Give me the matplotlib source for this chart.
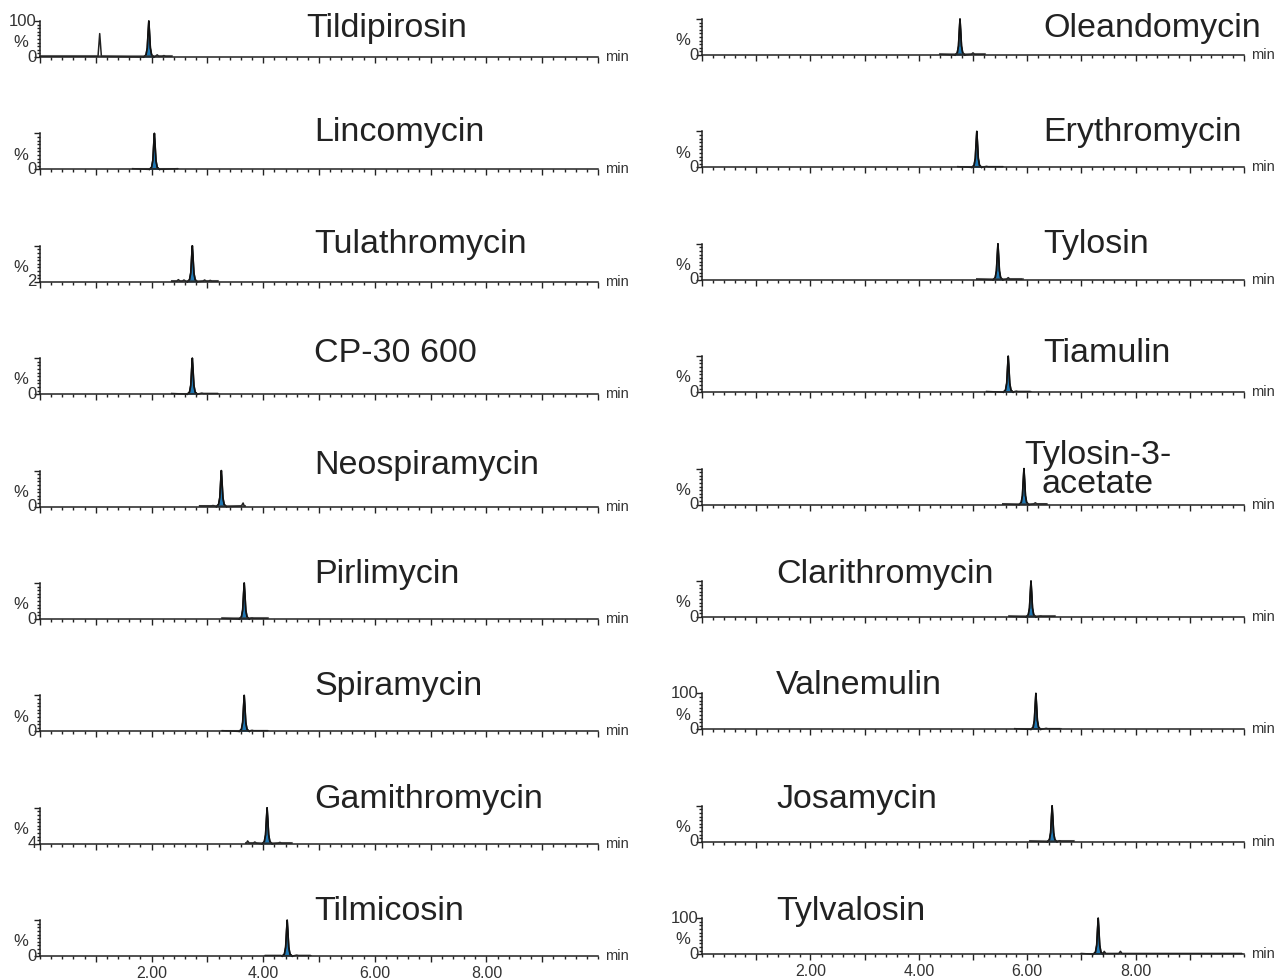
import matplotlib
matplotlib.use('Agg')
import matplotlib.pyplot as plt
from matplotlib.transforms import offset_copy
from matplotlib.ticker import MultipleLocator

plt.rcParams['font.family'] = ['Liberation Sans', 'DejaVu Sans']

# data
left_names = ['Tildipirosin', 'Lincomycin', 'Tulathromycin', 'CP-30 600', 'Neospiramycin',
              'Pirlimycin', 'Spiramycin', 'Gamithromycin', 'Tilmicosin']
left_rt = [1.95, 2.05, 2.73, 2.73, 3.25, 3.66, 3.66, 4.07, 4.43]
left_win = [(0.0, 2.35), (1.66, 2.46), (2.36, 3.18), (2.36, 3.18), (2.86, 3.66),
            (3.27, 4.07), (3.27, 4.07), (3.70, 4.50), (4.04, 4.84)]
left_bumps = [[(1.07, 65), (2.1, 6), (2.22, 4)], [], [(2.48, 6), (2.58, 5), (2.95, 5), (3.05, 4)],
              [(2.9, 3)], [(3.1, 3), (3.64, 10)], [(3.8, 3)], [(3.8, 3)],
              [(3.72, 8), (3.85, 5), (4.3, 4)], [(4.35, 20), (4.6, 3)]]
left_low = ['0', '0', '2', '0', '0', '0', '0', '4', '0']
left_top = ['100', '', '', '', '', '', '', '', '']

right_names = ['Oleandomycin', 'Erythromycin', 'Tylosin', 'Tiamulin', 'Tylosin-3-\nacetate',
               'Clarithromycin', 'Valnemulin', 'Josamycin', 'Tylvalosin']
right_rt = [4.76, 5.07, 5.46, 5.65, 5.94, 6.07, 6.16, 6.46, 7.31]
right_win = [(4.39, 5.21), (4.72, 5.54), (5.07, 5.90), (5.25, 6.05), (5.55, 6.35),
             (5.67, 6.50), (5.77, 6.60), (6.05, 6.85), (7.00, 9.95)]
right_bumps = [[(5.0, 6)], [(5.25, 3)], [(5.65, 6)], [(5.8, 3)], [(6.15, 5)],
               [(6.25, 3)], [(6.35, 3)], [(6.6, 3)], [(7.42, 8), (7.72, 8)]]
right_low = ['0'] * 9
right_top = ['', '', '', '', '', '', '100', '', '100']

xlabels = ['2.00', '4.00', '6.00', '8.00']
xlabel_pos = [2, 4, 6, 8]

# peak template (relative time, relative height)
shape_dt = [-0.09, -0.05, -0.028, -0.012, 0.0, 0.012, 0.028, 0.05, 0.09]
shape_h = [0, 0.06, 0.25, 0.7, 1.0, 0.7, 0.25, 0.06, 0]

# layout (pixels)
W, H = 1275, 980
title_y = [29, 133, 245, 354, 465, 574, 686, 799, 911]
BLUE = '#1f78b4'
fig = plt.figure(figsize=(W / 100, H / 100), dpi=100)


def bump_pts(t, h):
    return [(t - 0.03, 2), (t, h), (t + 0.03, 2)]


def panel(col, row, name, rt, win, bumps, low, top):
    if col == 0:
        x0, x1, b0, tx = 40, 598, 57, (306 if row == 0 else 314)
    else:
        x0, x1, b0 = 702, 1244, 55
        tx = 1043 if row < 5 else 776
    base = b0 + 112.4 * row
    ax = fig.add_axes([x0 / W, 1 - base / H, (x1 - x0) / W, 36 / H])
    ax.set_xlim(0, 10)
    ax.set_ylim(0, 100)
    for s in ['top', 'right']:
        ax.spines[s].set_visible(False)
    for s in ['left', 'bottom']:
        ax.spines[s].set_color('#222')
        ax.spines[s].set_linewidth(1.1)
    ax.xaxis.set_major_locator(MultipleLocator(1))
    ax.xaxis.set_minor_locator(MultipleLocator(0.2))
    ax.yaxis.set_major_locator(MultipleLocator(100))
    ax.yaxis.set_minor_locator(MultipleLocator(10))
    ax.tick_params(axis='both', which='major', length=4, width=1, color='#222')
    ax.tick_params(axis='both', which='minor', length=2.2, width=1, color='#222')
    ax.set_yticklabels([])
    if row == 8:
        ax.set_xticks(range(1, 10), minor=False)
        ax.set_xticklabels(['' if i not in xlabel_pos else xlabels[xlabel_pos.index(i)]
                            for i in range(1, 10)])
        ax.tick_params(axis='x', labelsize=11.5, labelcolor='#333', pad=3)
    else:
        ax.set_xticklabels([])

    # trace: window noise + side bumps + peak
    pts = [(win[0], 2), (win[1], 2)]
    for t, h in bumps:
        pts += bump_pts(t, h)
    peak = [(rt + d, 100 * f) for d, f in zip(shape_dt, shape_h)]
    pts = [p for p in pts if not (rt - 0.09 <= p[0] <= rt + 0.09)] + peak
    pts.sort()
    ax.plot([p[0] for p in pts], [p[1] for p in pts], color='#222', lw=1.1, clip_on=False)
    ax.fill_between([p[0] for p in peak], [p[1] for p in peak], 0, color=BLUE, lw=0)
    ax.plot([p[0] for p in peak], [p[1] for p in peak], color='#111', lw=1.2, clip_on=False)
    ax.plot([win[0], win[1]], [1.5, 1.5], color='#333', lw=2.2, alpha=0.6)

    tr = offset_copy(ax.transAxes, fig=fig, x=-19, y=0, units='dots')
    ax.text(0, 0.4, '%', transform=tr, ha='center', va='center', fontsize=12, color='#333')
    tr2 = offset_copy(ax.transAxes, fig=fig, x=-3, y=0, units='dots')
    ax.text(0, 0, low, transform=tr2, ha='right', va='center', fontsize=12, color='#333')
    if top:
        ax.text(0, 1, top, transform=tr2, ha='right', va='center', fontsize=12, color='#333')
    tr3 = offset_copy(ax.transAxes, fig=fig, x=7, y=0, units='dots')
    ax.text(1, 0, 'min', transform=tr3, ha='left', va='center', fontsize=10.5, color='#333')

    ty = title_y[row]
    if '\n' in name:
        fig.text(1098 / W, 1 - (ty + 5) / H, name, ha='center', va='center', fontsize=24.5,
                 color='#222', multialignment='center', linespacing=0.9)
    else:
        fig.text(tx / W, 1 - ty / H, name, ha='left', va='center', fontsize=24.5, color='#222')


for i in range(9):
    panel(0, i, left_names[i], left_rt[i], left_win[i], left_bumps[i], left_low[i], left_top[i])
    panel(1, i, right_names[i], right_rt[i], right_win[i], right_bumps[i], right_low[i], right_top[i])

fig.savefig('out.png', dpi=100)
